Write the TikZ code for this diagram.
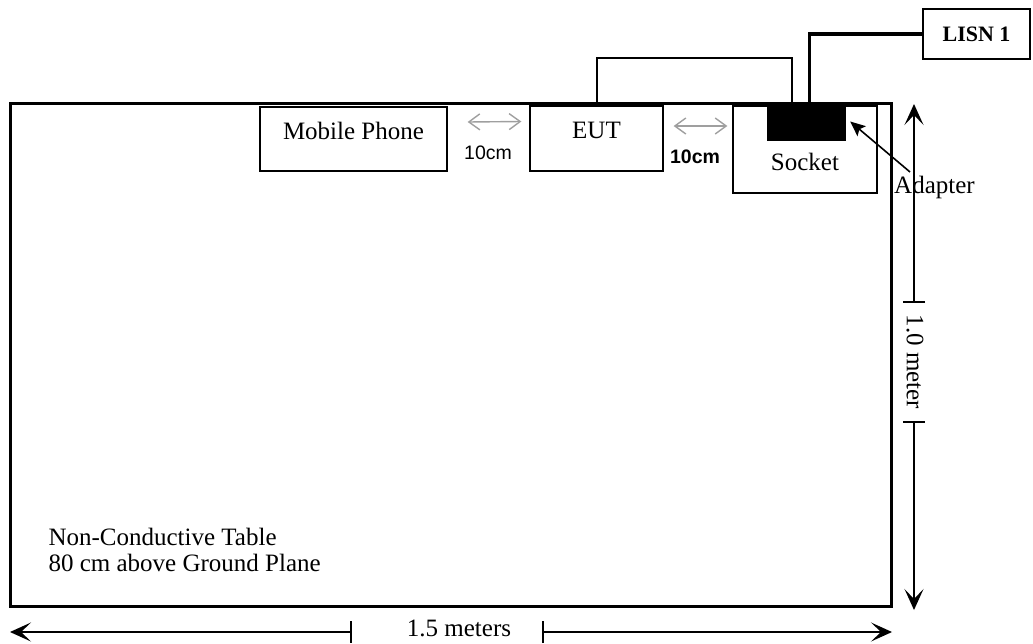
\documentclass[tikz,border=0pt]{standalone}
\usepackage{fontspec}
\setmainfont{Liberation Serif}
\newfontfamily\cmfont{Liberation Sans}
\usetikzlibrary{arrows.meta,calc,positioning}

\begin{document}
\begin{tikzpicture}[ x=1pt, y=-1pt, >=Stealth,
    every node/.style={font=\fontsize{25}{26}\selectfont},
    unitbox/.style={draw, line width=1.3pt, inner sep=0pt},
    cable/.style={line width=2pt},
    mains/.style={line width=3.5pt},
    gap/.style={gray!75, line width=1.4pt, {Straight Barb[length=11pt,width=16pt]}-{Straight Barb[length=11pt,width=16pt]}},
    spacing/.style={font=\cmfont\fontsize{19.5}{20}\selectfont},
    dimline/.style={line width=1.6pt, {Bar[width=22pt]}-{Stealth[length=21pt,width=19pt,inset=10pt]}},
    pointer/.style={line width=1.6pt, -{Stealth[length=15pt,width=13pt,inset=3pt]}} ]
    \useasboundingbox (0,0) rectangle (1033,643);

    % Table
    \node[draw, line width=3pt, inner sep=0pt, minimum width=881pt, minimum height=503pt] (table) at (450.5,354.5) {};
    \node[anchor=west, align=left] (tabletxt) at (45,550) {Non-Conductive Table\\80 cm above Ground Plane};

    % --- Units on the table ---
    \node[unitbox, minimum width=187pt, minimum height=64pt] (phone) at (353.5,139) {};
    \node (phonetxt) at ([yshift=8pt]phone.center) {Mobile Phone};
    \node[unitbox, minimum width=133pt, minimum height=65pt] (eut) at (596.5,138.5) {};
    \node (euttxt) at ([yshift=8pt]eut.center) {EUT};
    \node[unitbox, minimum width=144pt, minimum height=87pt] (socket) at (805,149.5) {};
    \node (sockettxt) at ([yshift=-12.5pt]socket.center) {Socket};
    \node[fill=black, inner sep=0pt, minimum width=79pt, minimum height=39pt] (adapter) at (806.5,121.5) {};
    \node[unitbox, minimum width=107pt, minimum height=50pt, font=\bfseries\fontsize{22}{24}\selectfont] (lisn) at (976.5,34) {LISN 1};

    % --- Spacings (grey) ---
    \draw[gap] ($(phone.east)+(20,-17)$) -- ($(eut.west)+(-8,-17)$);
    \node[spacing] (gap1) at (488,153) {10cm};
    \draw[gap] ($(eut.east)+(10,-12.5)$) -- ($(socket.west)+(-5,-23.5)$);
    \node[spacing, font=\cmfont\bfseries\fontsize{19.5}{20}\selectfont] (gap2) at (695,157) {10cm};

    % --- Cables ---
    \draw[cable] (eut.north) -- ++(0,-47) -| ([xshift=-15pt]adapter.north);
    \draw[mains] ([xshift=3pt]adapter.north) |- (lisn.west);

    % Adapter label
    \node[anchor=base west, inner sep=0pt] (adaptertxt) at (894,193) {Adapter};
    \coordinate (adaptertag) at (910,172);
    \draw[pointer] (adaptertag) -- ([xshift=4pt]adapter.east);

    % --- Dimensions ---
    \coordinate (vtop) at (914,104);
    \coordinate (vt1) at (914,303);
    \coordinate (vt2) at (914,421);
    \coordinate (vbot) at (914,610);
    \draw[dimline] (vt1) -- (vtop);
    \draw[dimline] (vt2) -- (vbot);
    \node[rotate=-90] (height) at (915,362) {1.0 meter};

    \coordinate (hleft) at (10,632);
    \coordinate (ht1) at (352,632);
    \coordinate (ht2) at (542,632);
    \coordinate (hright) at (892,632);
    \draw[dimline] (ht1) -- (hleft);
    \draw[dimline] (ht2) -- (hright);
    \node (width) at (459,628) {1.5 meters};
\end{tikzpicture}
\end{document}
